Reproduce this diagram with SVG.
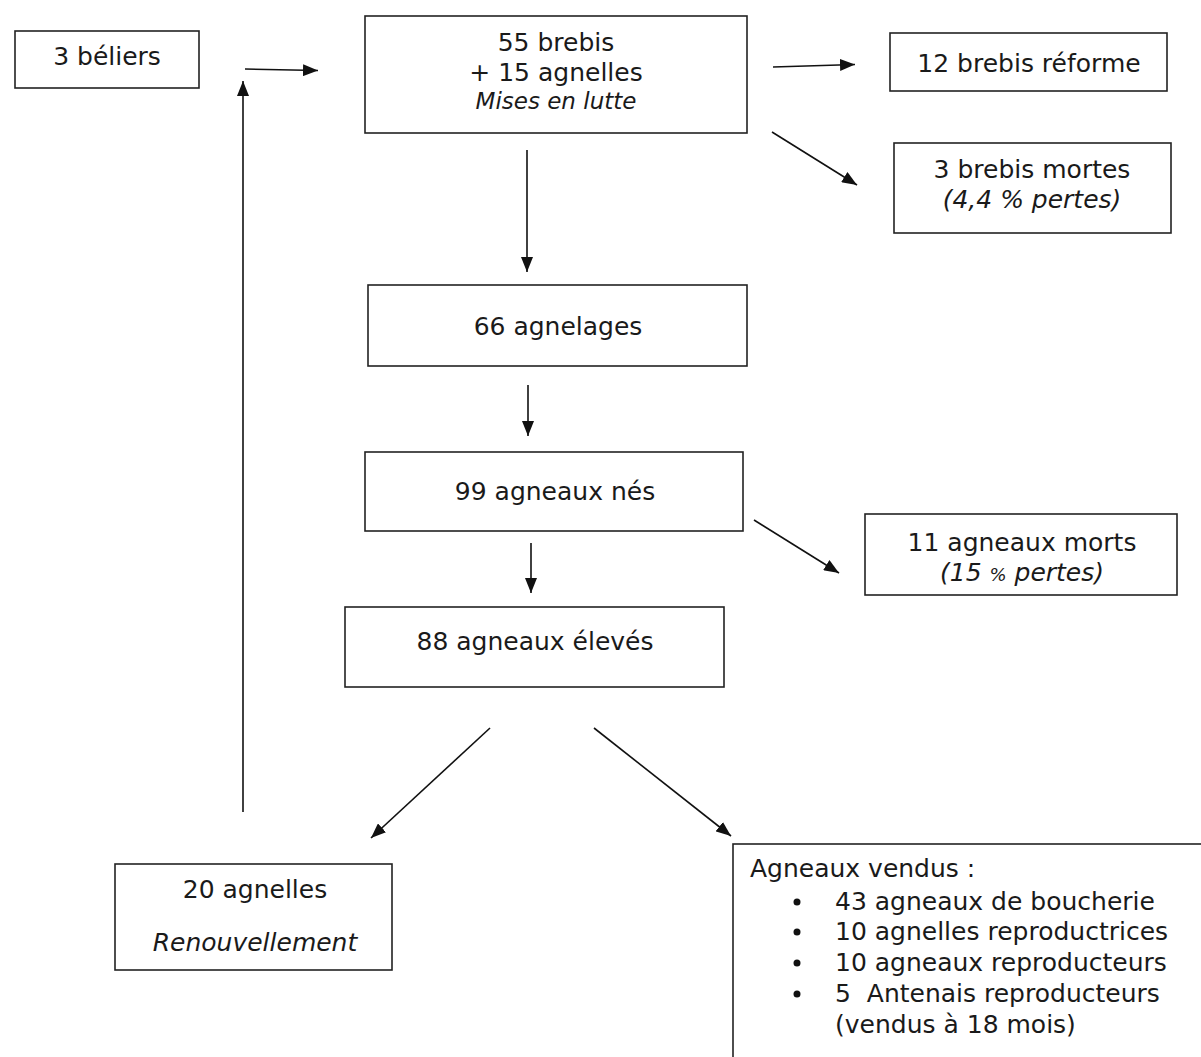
<svg xmlns="http://www.w3.org/2000/svg" width="1201" height="1057" viewBox="0 0 1201 1057">
<style>
.box{fill:#fff;stroke:#222;stroke-width:1.6}
.t{font-family:"DejaVu Sans","Verdana",sans-serif;font-size:25px;fill:#1a1a1a}
.c{text-anchor:middle}
.i{font-style:italic}
.ln{stroke:#111;stroke-width:1.6;fill:none;marker-end:url(#ah)}
</style>
<defs>
<marker id="ah" markerUnits="userSpaceOnUse" markerWidth="15" markerHeight="12" refX="15" refY="6" orient="auto">
<path d="M0,0 L15,6 L0,12 z" fill="#111"/>
</marker>
</defs>
<rect width="1201" height="1057" fill="#fff"/>
<g id="connectors">
<line class="ln" x1="245" y1="69" x2="318" y2="70.5"/>
<line class="ln" x1="243" y1="812" x2="243" y2="81"/>
<line class="ln" x1="773" y1="67" x2="855" y2="64.5"/>
<line class="ln" x1="772" y1="132" x2="857" y2="185"/>
<line class="ln" x1="527" y1="150" x2="527" y2="272"/>
<line class="ln" x1="528" y1="385" x2="528" y2="436"/>
<line class="ln" x1="531" y1="543" x2="531" y2="593"/>
<line class="ln" x1="754" y1="520" x2="839" y2="573"/>
<line class="ln" x1="490" y1="728" x2="371" y2="838"/>
<line class="ln" x1="594" y1="728" x2="731" y2="836"/>
</g>
<g id="beliers">
<rect class="box" x="15" y="31" width="184" height="57"/>
<text class="t c" x="107" y="65">3 béliers</text>
</g>
<g id="brebis">
<rect class="box" x="365" y="16" width="382" height="117"/>
<text class="t c" x="556" y="51">55 brebis</text>
<text class="t c" x="556" y="81">+ 15 agnelles</text>
<text class="t c i" x="556" y="109" style="font-size:23px">Mises en lutte</text>
</g>
<g id="reforme">
<rect class="box" x="890" y="33" width="277" height="58"/>
<text class="t c" x="1029" y="72">12 brebis réforme</text>
</g>
<g id="brebis-mortes">
<rect class="box" x="894" y="143" width="277" height="90"/>
<text class="t c" x="1032" y="178">3 brebis mortes</text>
<text class="t c i" x="1032" y="208">(4,4 % pertes)</text>
</g>
<g id="agnelages">
<rect class="box" x="368" y="285" width="379" height="81"/>
<text class="t c" x="558" y="335">66 agnelages</text>
</g>
<g id="agneaux-nes">
<rect class="box" x="365" y="452" width="378" height="79"/>
<text class="t c" x="555" y="500">99 agneaux nés</text>
</g>
<g id="agneaux-morts">
<rect class="box" x="865" y="514" width="312" height="81"/>
<text class="t c" x="1022" y="551">11 agneaux morts</text>
<text class="t c i" x="1022" y="581">(15 <tspan style="font-size:18px">%</tspan> pertes)</text>
</g>
<g id="agneaux-eleves">
<rect class="box" x="345" y="607" width="379" height="80"/>
<text class="t c" x="535" y="650">88 agneaux élevés</text>
</g>
<g id="agnelles">
<rect class="box" x="115" y="864" width="277" height="106"/>
<text class="t c" x="255" y="898">20 agnelles</text>
<text class="t c i" x="255" y="951">Renouvellement</text>
</g>
<g id="vendus">
<rect class="box" x="733" y="844" width="480" height="230"/>
<text class="t" x="750" y="877">Agneaux vendus :</text>
<circle cx="797" cy="902" r="3.5" fill="#111"/>
<circle cx="797" cy="932" r="3.5" fill="#111"/>
<circle cx="797" cy="963" r="3.5" fill="#111"/>
<circle cx="797" cy="994" r="3.5" fill="#111"/>
<text class="t" x="835" y="910">43 agneaux de boucherie</text>
<text class="t" x="835" y="940">10 agnelles reproductrices</text>
<text class="t" x="835" y="971">10 agneaux reproducteurs</text>
<text class="t" x="835" y="1002" xml:space="preserve">5  Antenais reproducteurs</text>
<text class="t" x="835" y="1033">(vendus à 18 mois)</text>
</g>
</svg>
